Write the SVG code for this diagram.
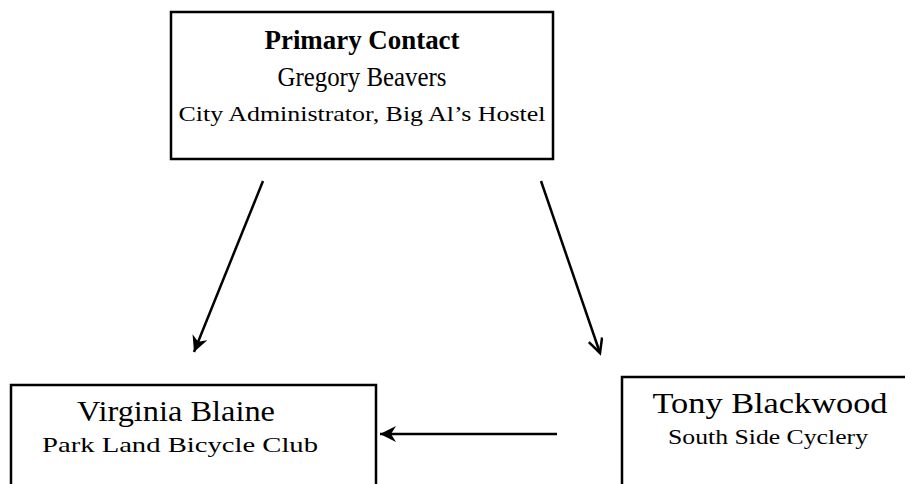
<svg xmlns="http://www.w3.org/2000/svg" width="905" height="484" viewBox="0 0 905 484">
<style>
.box{fill:#fff;stroke:#000;stroke-width:2.5}
.t{font-family:"Liberation Serif","Times New Roman",serif;fill:#000;text-anchor:middle}
.b{font-weight:bold}
.c{stroke:#000;stroke-width:2.5;fill:none}
</style>
<defs>
<marker id="ah" markerWidth="18" markerHeight="18" refX="16" refY="8" orient="auto" markerUnits="userSpaceOnUse">
<path d="M0,0 L16,8 L0,16 L5,8 Z" fill="#000"/>
</marker>
<marker id="av" markerWidth="18" markerHeight="18" refX="15" refY="8" orient="auto" markerUnits="userSpaceOnUse">
<path d="M1,1 L15,8 L1,15" fill="none" stroke="#000" stroke-width="2.5"/>
</marker>
</defs>
<rect width="905" height="484" fill="#fff"/>
<g id="primary">
<rect class="box" x="171" y="12" width="382" height="147"/>
<text class="t b" x="362" y="49" font-size="27" textLength="195" lengthAdjust="spacingAndGlyphs">Primary Contact</text>
<text class="t" x="362" y="86" font-size="28" textLength="169" lengthAdjust="spacingAndGlyphs">Gregory Beavers</text>
<text class="t" x="362" y="121" font-size="22" textLength="367" lengthAdjust="spacingAndGlyphs">City Administrator, Big Al’s Hostel</text>
</g>
<g id="virginia">
<rect class="box" x="11" y="385" width="365" height="120"/>
<text class="t" x="176" y="421" font-size="30" textLength="198" lengthAdjust="spacingAndGlyphs">Virginia Blaine</text>
<text class="t" x="180" y="452" font-size="22" textLength="276" lengthAdjust="spacingAndGlyphs">Park Land Bicycle Club</text>
</g>
<g id="tony">
<rect class="box" x="622" y="377" width="300" height="130"/>
<text class="t" x="770" y="413" font-size="30" textLength="235" lengthAdjust="spacingAndGlyphs">Tony Blackwood</text>
<text class="t" x="768" y="444" font-size="22" textLength="200" lengthAdjust="spacingAndGlyphs">South Side Cyclery</text>
</g>
<g id="connectors">
<line class="c" x1="263" y1="181" x2="194" y2="352" marker-end="url(#ah)"/>
<line class="c" x1="541" y1="181" x2="600" y2="353" marker-end="url(#av)"/>
<line class="c" x1="557" y1="434" x2="380" y2="434" marker-end="url(#ah)"/>
</g>
</svg>
